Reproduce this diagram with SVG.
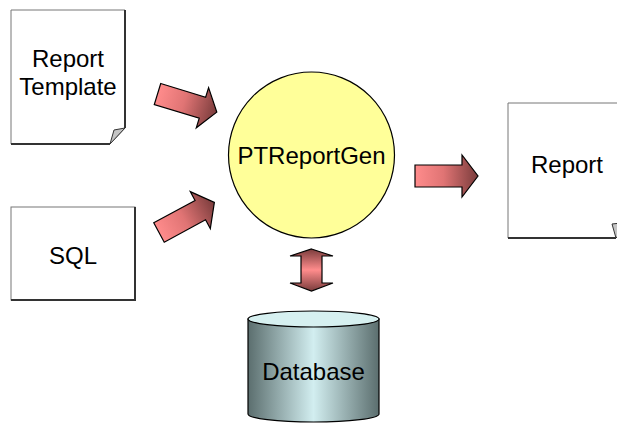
<svg xmlns="http://www.w3.org/2000/svg" width="617" height="423" viewBox="0 0 617 423">
<defs>
<linearGradient id="arrowGrad" x1="0" y1="0" x2="1" y2="0">
<stop offset="0" stop-color="#ff8c8c"/>
<stop offset="0.45" stop-color="#e07474"/>
<stop offset="1" stop-color="#7a3c3c"/>
</linearGradient>
<linearGradient id="dblGrad" x1="0" y1="0" x2="0" y2="1">
<stop offset="0" stop-color="#7a3c3c"/>
<stop offset="0.5" stop-color="#ff8c8c"/>
<stop offset="1" stop-color="#7a3c3c"/>
</linearGradient>
<linearGradient id="cylGrad" x1="0" y1="0" x2="1" y2="0">
<stop offset="0" stop-color="#5b6e6e"/>
<stop offset="0.5" stop-color="#d2eef0"/>
<stop offset="1" stop-color="#5b6e6e"/>
</linearGradient>
</defs>
<style>
text { font-family: "Liberation Sans", Arial, sans-serif; font-size: 24px; fill: #000; text-anchor: middle; }
.page { fill: #fff; stroke: #777; stroke-width: 1; }
.shadow { fill: none; stroke: #333; stroke-width: 2; }
.curl { fill: #c4c4c4; stroke: #333; stroke-width: 1; stroke-linejoin: round; }
.arrow { fill: url(#arrowGrad); stroke: #000; stroke-width: 1.2; stroke-linejoin: miter; }
</style>
<rect width="617" height="423" fill="#fff"/>

<g id="report-template">
<path class="page" d="M11,10 H125 V128 L110,144 H11 Z"/>
<path class="shadow" d="M125,10 V128 M110,144 H11"/>
<path class="curl" d="M110,144 L114,130 L125,128 Z"/>
<text x="68" y="67">Report</text>
<text x="68" y="95">Template</text>
</g>

<g id="sql">
<rect x="11" y="207" width="124" height="93" fill="#fff" stroke="#777" stroke-width="1"/>
<path class="shadow" d="M135,207 V300 H11"/>
<text x="73" y="264">SQL</text>
</g>

<g id="ptreportgen">
<circle cx="311.5" cy="155" r="83" fill="#ffff99" stroke="#000" stroke-width="1.2"/>
<text x="311.5" y="164">PTReportGen</text>
</g>

<g id="report">
<path class="page" d="M508,103 H630 V222 L616,238 H508 Z"/>
<path class="shadow" d="M616,238 H508"/>
<path class="curl" d="M616,238 L612,224 L630,222 Z"/>
<text x="567" y="173">Report</text>
</g>

<g id="database">
<path d="M248,319 V414 A65.5,8 0 0 0 379,414 V319 Z" fill="url(#cylGrad)" stroke="#000" stroke-width="1.2"/>
<ellipse cx="313.5" cy="319" rx="65.5" ry="8" fill="#d6f0f0" stroke="#000" stroke-width="1.2"/>
<text x="313.5" y="380">Database</text>
</g>

<g id="connectors">
<path class="arrow" transform="translate(157.5,94) rotate(17)" d="M0,-11 H47 V-21 L62,0 L47,21 V11 H0 Z"/>
<path class="arrow" transform="translate(159,232.5) rotate(-28.5)" d="M0,-11 H47 V-21 L63,0 L47,21 V11 H0 Z"/>
<path class="arrow" transform="translate(415,176)" d="M0,-11 H47 V-21 L63,0 L47,21 V11 H0 Z"/>
<path d="M311.5,249 L333,256 H322 V283 H333 L311.5,291 L290,283 H301 V256 H290 Z" fill="url(#dblGrad)" stroke="#000" stroke-width="1.2"/>
</g>
</svg>
